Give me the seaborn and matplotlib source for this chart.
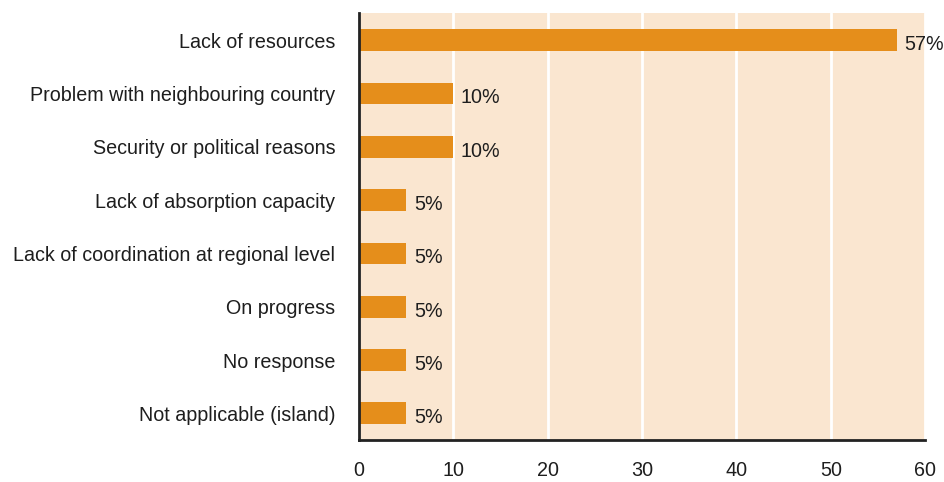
import matplotlib.pyplot as plt
import pandas as pd
import seaborn as sns

categories = [
    "Lack of resources",
    "Problem with neighbouring country",
    "Security or political reasons",
    "Lack of absorption capacity",
    "Lack of coordination at regional level",
    "On progress",
    "No response",
    "Not applicable (island)",
]
values = [57, 10, 10, 5, 5, 5, 5, 5]
x_ticks = [0, 10, 20, 30, 40, 50, 60]

BAR_COLOR = "#E58E1B"
BG_COLOR = "#FAE6D0"
TEXT_COLOR = "#1E1E1E"
FONT_SIZE = 14.2

sns.set_style("white")
plt.rcParams["font.family"] = ["Liberation Sans", "DejaVu Sans"]

df = pd.DataFrame({"category": categories, "value": values})

fig, ax = plt.subplots(figsize=(9.45, 4.82), dpi=100)
fig.subplots_adjust(left=0.38, right=0.979, top=0.972, bottom=0.087)

sns.barplot(data=df, x="value", y="category", color=BAR_COLOR, width=0.41,
            saturation=1, linewidth=0, ax=ax)

ax.set_facecolor(BG_COLOR)
ax.set_xlim(0, 60)
ax.set_xticks(x_ticks)
ax.grid(axis="x", color="white", linewidth=2)
ax.set_axisbelow(True)
ax.set_xlabel("")
ax.set_ylabel("")

for side in ["top", "right"]:
    ax.spines[side].set_visible(False)
for side in ["left", "bottom"]:
    ax.spines[side].set_color("#222222")
    ax.spines[side].set_linewidth(2)

ax.tick_params(axis="both", length=0, labelsize=FONT_SIZE, colors=TEXT_COLOR)
ax.tick_params(axis="x", pad=15)
ax.tick_params(axis="y", pad=17)

# value labels, sitting a touch below the bar centre like the original
for i, v in enumerate(values):
    ax.text(v + 0.8, i + 0.08, f"{v}%", va="center", ha="left",
            fontsize=FONT_SIZE, color=TEXT_COLOR)

plt.savefig("out.png", dpi=100)
